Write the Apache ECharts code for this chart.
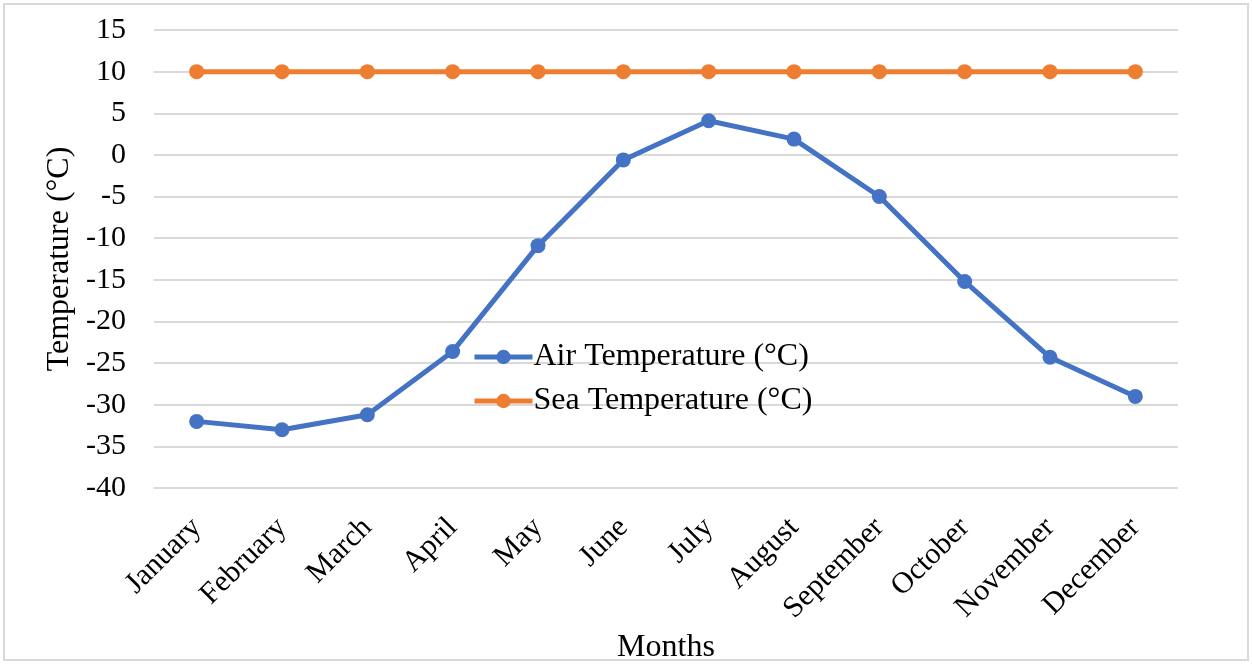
<!DOCTYPE html>
<html><head><meta charset="utf-8">
<script src="https://cdn.jsdelivr.net/npm/echarts@6/dist/echarts.min.js"></script>
<style>html,body{margin:0;padding:0;background:#fff}#c{width:1252px;height:664px}</style>
</head><body><div id="c"></div>
<script>
const months = ['January','February','March','April','May','June','July','August','September','October','November','December'];
const airTemp = [-32, -33, -31.2, -23.6, -10.9, -0.6, 4.1, 1.9, -5.0, -15.2, -24.3, -29.0];
const seaTemp = [10, 10, 10, 10, 10, 10, 10, 10, 10, 10, 10, 10];
const font = 'Liberation Serif';
const chart = echarts.init(document.getElementById('c'));
chart.setOption({
  backgroundColor: '#fff',
  animation: false,
  textStyle: {fontFamily: font},
  graphic: [{type: 'rect', silent: true, shape: {x: 4, y: 4, width: 1244, height: 656},
    style: {fill: 'none', stroke: '#d9d9d9', lineWidth: 2}}],
  grid: {left: 154, right: 74, top: 30, bottom: 176, outerBoundsMode: 'none', containLabel: false},
  legend: {
    orient: 'vertical', left: 467, top: 336, itemWidth: 58, itemHeight: 18, itemGap: 12,
    textStyle: {fontFamily: font, fontSize: 32, color: '#000', padding: [0,0,0,-4]},
    lineStyle: {width: 5},
    data: ['Air Temperature (°C)', 'Sea Temperature (°C)']
  },
  xAxis: {
    type: 'category', data: months, boundaryGap: true,
    name: 'Months', nameLocation: 'middle', nameGap: 143,
    nameTextStyle: {fontFamily: font, fontSize: 32, color: '#000'},
    axisLine: {show: false}, axisTick: {show: false},
    axisLabel: {rotate: 45, fontFamily: font, fontSize: 30, color: '#000', margin: 35, interval: 0}
  },
  yAxis: {
    type: 'value', min: -40, max: 15, interval: 5,
    name: 'Temperature (°C)', nameLocation: 'middle', nameGap: 77,
    nameTextStyle: {fontFamily: font, fontSize: 32, color: '#000'},
    axisLine: {show: false}, axisTick: {show: false},
    axisLabel: {fontFamily: font, fontSize: 30, color: '#000', margin: 28},
    splitLine: {lineStyle: {color: '#d9d9d9', width: 2}}
  },
  series: [
    {name: 'Air Temperature (°C)', type: 'line', data: airTemp,
     symbol: 'circle', symbolSize: 15,
     itemStyle: {color: '#4472c4'}, lineStyle: {width: 5, color: '#4472c4'}},
    {name: 'Sea Temperature (°C)', type: 'line', data: seaTemp,
     symbol: 'circle', symbolSize: 15,
     itemStyle: {color: '#ed7d31'}, lineStyle: {width: 5, color: '#ed7d31'}}
  ]
});
</script></body></html>
